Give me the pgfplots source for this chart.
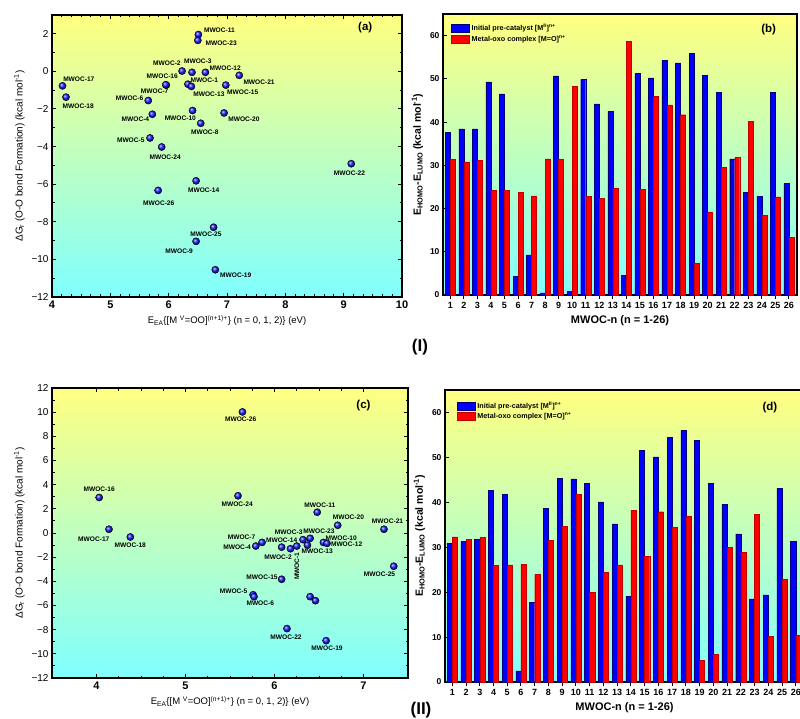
\documentclass[border=0pt]{standalone}
\usepackage{fontspec}
\setmainfont{Liberation Sans}
\usepackage{pgfplots}
\pgfplotsset{compat=1.18}
\definecolor{bgtop}{HTML}{FFFF80}
\definecolor{bgbot}{HTML}{80FFFF}
\definecolor{barblue}{HTML}{0000FF}
\definecolor{barred}{HTML}{FF0000}
\definecolor{ballblue}{HTML}{1A1AFF}

\tikzset{
  lab/.style={font=\fontsize{6.6}{7}\selectfont\bfseries, inner sep=0pt},
  plab/.style={font=\fontsize{11.5}{12}\selectfont\bfseries, inner sep=0pt},
}
\pgfplotsset{
  panel/.style={
    scale only axis,
    anchor=south west,
    axis background/.style={shade, top color=bgtop, bottom color=bgbot},
    axis line style={line width=1.2pt},
    tick align=inside,
    major tick length=4pt,
    minor tick length=2.5pt,
    every tick/.style={black, line width=1pt},
    /pgf/number format/assume math mode=true,
    clip=false,
  },
  scat/.style={only marks, mark=ball, mark size=3.6pt, mark options={ball color=ballblue}},
  bars/.style={
    ybar, bar width=0.37,
    xmin=0.46, xmax=26.6, ymin=0, ymax=65,
    xtick={1,...,26}, ytick={0,10,...,60},
    xtick pos=bottom, ytick pos=left,
    xticklabel style={font=\fontsize{9}{9}\selectfont\bfseries},
    yticklabel style={font=\fontsize{8.5}{9}\selectfont\bfseries},
    xlabel={\bfseries MWOC-n (n = 1-26)},
    ylabel={\bfseries E\textsubscript{HOMO}-E\textsubscript{LUMO} (kcal mol\textsuperscript{-1})},
    xlabel style={font=\fontsize{11}{12}\selectfont},
    ylabel style={font=\fontsize{10.5}{11}\selectfont},
    legend cell align=left,
    legend image code/.code={\draw[##1] (0pt,-4pt) rectangle (18pt,4pt);},
    legend style={draw=none, fill=none, font=\fontsize{7.2}{8}\selectfont\bfseries,
      row sep=-1pt, inner sep=1pt},
  },
  blueb/.style={fill=barblue, draw=blue!45!black, line width=0.4pt, bar shift=-0.185},
  redb/.style={fill=barred, draw=red!75!black, line width=0.4pt, bar shift=0.185},
  gibbs/.style={
    xticklabel style={font=\fontsize{11}{12}\selectfont\bfseries},
    yticklabel style={font=\fontsize{10}{11}\selectfont},
    xlabel={E\textsubscript{EA}\{[M \textsuperscript{V}=OO]\textsuperscript{(n+1)+}\} (n = 0, 1, 2)\} (eV)},
    ylabel={ΔG\textsubscript{r} (O-O bond Formation) (kcal mol\textsuperscript{-1})},
    xlabel style={font=\fontsize{9.5}{10}\selectfont},
    ylabel style={font=\fontsize{10}{11}\selectfont},
  },
}

\begin{document}
\begin{tikzpicture}
\useasboundingbox (0,0) rectangle (800pt,718pt);
\clip (0,0) rectangle (800pt,718pt);

% ---------------- (a)
\begin{axis}[panel, gibbs,
  at={(52pt,421pt)}, width=350pt, height=282pt,
  xmin=4, xmax=10, ymin=-12, ymax=3,
  xtick={4,...,10}, minor x tick num=5,
  ytick={-12,-10,...,2}, minor y tick num=1,
  yticklabels={−12,−10,−8,−6,−4,−2,0,2},
]
\addplot[scat] coordinates {
(6.33,-0.68) (6.23,0.02) (6.40,-0.05) (5.72,-2.28) (5.68,-3.54)
(5.65,-1.55) (5.96,-0.73) (6.55,-2.76) (6.47,-9.04) (6.41,-2.08)
(6.51,1.96) (6.63,-0.05) (6.39,-0.80) (6.47,-5.82) (6.98,-0.73)
(5.95,-0.71) (4.18,-0.77) (4.24,-1.37) (6.80,-10.55) (6.95,-2.21)
(7.21,-0.21) (9.13,-4.91) (6.50,1.65) (5.88,-4.02) (6.77,-8.29)
(5.82,-6.33)
};
\node[lab] at (axis cs:6.61,-0.48) {MWOC-1};
\node[lab] at (axis cs:5.97,0.41) {MWOC-2};
\node[lab] at (axis cs:6.50,0.55) {MWOC-3};
\node[lab] at (axis cs:5.43,-2.54) {MWOC-4};
\node[lab] at (axis cs:5.35,-3.67) {MWOC-5};
\node[lab] at (axis cs:5.33,-1.44) {MWOC-6};
\node[lab] at (axis cs:5.76,-1.03) {MWOC-7};
\node[lab] at (axis cs:6.62,-3.24) {MWOC-8};
\node[lab] at (axis cs:6.18,-9.54) {MWOC-9};
\node[lab] at (axis cs:6.20,-2.49) {MWOC-10};
\node[lab] at (axis cs:6.87,2.17) {MWOC-11};
\node[lab] at (axis cs:6.97,0.16) {MWOC-12};
\node[lab] at (axis cs:6.69,-1.21) {MWOC-13};
\node[lab] at (axis cs:6.60,-6.32) {MWOC-14};
\node[lab] at (axis cs:7.27,-1.10) {MWOC-15};
\node[lab] at (axis cs:5.89,-0.28) {MWOC-16};
\node[lab] at (axis cs:4.46,-0.43) {MWOC-17};
\node[lab] at (axis cs:4.45,-1.83) {MWOC-18};
\node[lab] at (axis cs:7.15,-10.84) {MWOC-19};
\node[lab] at (axis cs:7.29,-2.56) {MWOC-20};
\node[lab] at (axis cs:7.55,-0.57) {MWOC-21};
\node[lab] at (axis cs:9.10,-5.43) {MWOC-22};
\node[lab] at (axis cs:6.90,1.48) {MWOC-23};
\node[lab] at (axis cs:5.94,-4.56) {MWOC-24};
\node[lab] at (axis cs:6.64,-8.65) {MWOC-25};
\node[lab] at (axis cs:5.83,-6.99) {MWOC-26};
\node[plab] at (rel axis cs:0.895,0.955) {(a)};
\end{axis}

% ---------------- (b)
\begin{axis}[panel, bars,
  at={(443pt,423pt)}, width=354pt, height=281pt,
  legend style={at={(0.02,0.975)}, anchor=north west},
]
\addplot[blueb] coordinates {
(1,37.7) (2,38.4) (3,38.4) (4,49.3) (5,46.5) (6,4.3) (7,9.3) (8,0.5)
(9,50.7) (10,0.9) (11,49.9) (12,44.2) (13,42.5) (14,4.6) (15,51.2)
(16,50.2) (17,54.3) (18,53.7) (19,55.9) (20,50.8) (21,46.9) (22,31.5)
(23,23.8) (24,22.8) (25,46.9) (26,25.8)
};
\addlegendentry{Initial pre-catalyst [M\textsuperscript{II}]\textsuperscript{n+}}
\addplot[redb] coordinates {
(1,31.3) (2,30.8) (3,31.2) (4,24.2) (5,24.2) (6,23.8) (7,22.9) (8,31.5)
(9,31.4) (10,48.2) (11,22.8) (12,22.4) (13,24.8) (14,58.7) (15,24.5)
(16,46.0) (17,44.0) (18,41.7) (19,7.3) (20,19.2) (21,29.5) (22,31.8)
(23,40.2) (24,18.5) (25,22.7) (26,13.4)
};
\addlegendentry{Metal-oxo complex [M=O]\textsuperscript{n+}}
\node[plab] at (rel axis cs:0.92,0.945) {(b)};
\end{axis}

% ---------------- (c)
\begin{axis}[panel, gibbs,
  at={(52pt,40pt)}, width=356pt, height=290pt,
  xmin=3.5, xmax=7.5, ymin=-12, ymax=12,
  xtick={4,...,7}, minor x tick num=3,
  ytick={-12,-10,...,12}, minor y tick num=1,
  yticklabels={−12,−10,−8,−6,−4,−2,0,2,4,6,8,10,12},
]
\addplot[scat] coordinates {
(6.25,-1.08) (6.18,-1.30) (6.32,-0.55) (5.79,-1.08) (5.76,-5.11)
(5.77,-5.27) (5.86,-0.78) (6.40,-5.27) (6.46,-5.60) (6.55,-0.78)
(6.48,1.72) (6.59,-0.86) (6.37,-1.00) (6.08,-1.17) (6.08,-3.83)
(4.03,2.94) (4.14,0.31) (4.38,-0.33) (6.58,-8.91) (6.71,0.64)
(7.23,0.31) (6.14,-7.91) (6.40,-0.44) (5.59,3.08) (7.34,-2.75)
(5.64,10.02)
};
\node[lab, rotate=90] at (axis cs:6.25,-2.75) {MWOC-1};
\node[lab] at (axis cs:6.04,-1.97) {MWOC-2};
\node[lab] at (axis cs:6.16,0.06) {MWOC-3};
\node[lab] at (axis cs:5.58,-1.19) {MWOC-4};
\node[lab] at (axis cs:5.54,-4.80) {MWOC-5};
\node[lab] at (axis cs:5.84,-5.85) {MWOC-6};
\node[lab] at (axis cs:5.63,-0.33) {MWOC-7};
\node[lab] at (axis cs:6.75,-0.42) {MWOC-10};
\node[lab] at (axis cs:6.51,2.30) {MWOC-11};
\node[lab] at (axis cs:6.81,-0.97) {MWOC-12};
\node[lab] at (axis cs:6.48,-1.50) {MWOC-13};
\node[lab] at (axis cs:6.08,-0.58) {MWOC-14};
\node[lab] at (axis cs:5.86,-3.66) {MWOC-15};
\node[lab] at (axis cs:4.03,3.61) {MWOC-16};
\node[lab] at (axis cs:3.97,-0.53) {MWOC-17};
\node[lab] at (axis cs:4.38,-1.00) {MWOC-18};
\node[lab] at (axis cs:6.59,-9.54) {MWOC-19};
\node[lab] at (axis cs:6.83,1.28) {MWOC-20};
\node[lab] at (axis cs:7.27,0.94) {MWOC-21};
\node[lab] at (axis cs:6.13,-8.63) {MWOC-22};
\node[lab] at (axis cs:6.50,0.11) {MWOC-23};
\node[lab] at (axis cs:5.58,2.36) {MWOC-24};
\node[lab] at (axis cs:7.18,-3.39) {MWOC-25};
\node[lab] at (axis cs:5.62,9.41) {MWOC-26};
\node[plab] at (rel axis cs:0.875,0.94) {(c)};
\end{axis}

% ---------------- (d)
\begin{axis}[panel, bars,
  at={(445pt,36pt)}, width=359pt, height=292pt,
  xmin=0.47,
  legend style={at={(0.03,0.97)}, anchor=north west},
]
\addplot[blueb] coordinates {
(1,30.9) (2,31.3) (3,31.7) (4,42.6) (5,41.8) (6,2.5) (7,17.7) (8,38.6)
(9,45.4) (10,45.2) (11,44.2) (12,40.1) (13,35.2) (14,19.0) (15,51.6)
(16,50.1) (17,54.5) (18,56.0) (19,53.8) (20,44.2) (21,39.6) (22,33.0)
(23,18.5) (24,19.4) (25,43.1) (26,31.3)
};
\addlegendentry{Initial pre-catalyst [M\textsuperscript{II}]\textsuperscript{n+}}
\addplot[redb] coordinates {
(1,32.3) (2,31.8) (3,32.2) (4,26.0) (5,26.1) (6,26.2) (7,23.9) (8,31.5)
(9,34.7) (10,41.8) (11,20.0) (12,24.4) (13,26.1) (14,38.2) (15,27.9)
(16,37.9) (17,34.4) (18,37.0) (19,4.8) (20,6.2) (21,30.0) (22,28.9)
(23,37.3) (24,10.2) (25,22.8) (26,10.4)
};
\addlegendentry{Metal-oxo complex [M=O]\textsuperscript{n+}}
\node[plab] at (rel axis cs:0.905,0.94) {(d)};
\end{axis}

\node[font=\fontsize{17}{18}\selectfont\bfseries] at (420pt,371pt) {(I)};
\node[font=\fontsize{17}{18}\selectfont\bfseries] at (421pt,8pt) {(II)};
\end{tikzpicture}
\end{document}
